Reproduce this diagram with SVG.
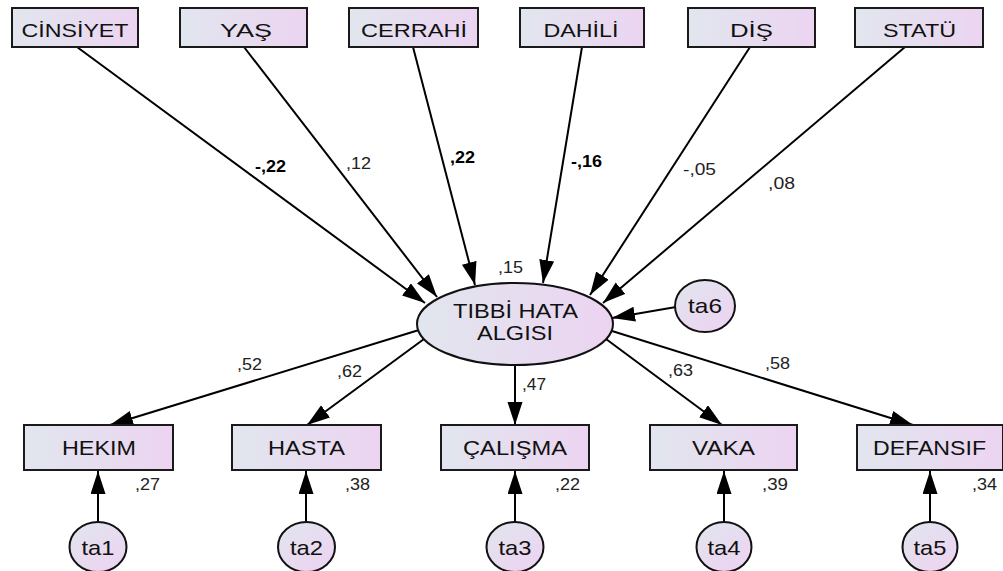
<svg xmlns="http://www.w3.org/2000/svg" width="1003" height="571" viewBox="0 0 1003 571">
<defs>
<linearGradient id="gh" x1="0" y1="0" x2="1" y2="0"><stop offset="0" stop-color="#e1e6ee"/><stop offset="1" stop-color="#ecd4f1"/></linearGradient>
<linearGradient id="gd" x1="0" y1="0" x2="0.7" y2="1"><stop offset="0" stop-color="#e1e6ee"/><stop offset="1" stop-color="#ecd4f1"/></linearGradient>
<marker id="ah" markerUnits="userSpaceOnUse" markerWidth="24" markerHeight="16" refX="23" refY="7.5" orient="auto"><path d="M0,0 L23,7.5 L0,15 z" fill="#000"/></marker>
<style>
.box{fill:url(#gh);stroke:#1a1a1a;stroke-width:2}
.lat{fill:url(#gh);stroke:#111;stroke-width:2}
.err{fill:url(#gd);stroke:#111;stroke-width:2}
.t{font-family:"Liberation Sans",Arial,sans-serif;fill:#111;text-anchor:middle}
.l{font-family:"Liberation Sans",Arial,sans-serif;fill:#222;font-size:16px}
.b{font-weight:bold;fill:#000}
.c line{stroke:#000;stroke-width:2;marker-end:url(#ah)}
</style>
</defs>
<rect width="1003" height="571" fill="#fff"/>
<g class="c" id="connectors">
<line x1="77" y1="47" x2="425" y2="303"/>
<line x1="244" y1="47" x2="437" y2="297"/>
<line x1="413" y1="47" x2="475" y2="285"/>
<line x1="582" y1="47" x2="543" y2="283"/>
<line x1="750" y1="47" x2="590" y2="295"/>
<line x1="905" y1="47" x2="603" y2="303"/>
<line x1="676" y1="307" x2="612" y2="318"/>
<line x1="419" y1="330" x2="110" y2="425"/>
<line x1="424" y1="339" x2="307" y2="425"/>
<line x1="515" y1="365" x2="515" y2="425"/>
<line x1="606" y1="339" x2="722" y2="425"/>
<line x1="612" y1="331" x2="913" y2="425"/>
<line x1="98" y1="522" x2="98" y2="471"/>
<line x1="306" y1="522" x2="306" y2="471"/>
<line x1="515" y1="522" x2="515" y2="471"/>
<line x1="724" y1="522" x2="724" y2="471"/>
<line x1="930" y1="522" x2="930" y2="471"/>
</g>
<g id="n-cinsiyet"><rect class="box" x="12" y="8" width="126" height="39"/><text class="t" x="75" y="37" font-size="19" textLength="107" lengthAdjust="spacingAndGlyphs">CİNSİYET</text></g>
<g id="n-yas"><rect class="box" x="180" y="8" width="127" height="39"/><text class="t" x="246" y="37" font-size="19" textLength="52" lengthAdjust="spacingAndGlyphs">YAŞ</text></g>
<g id="n-cerrahi"><rect class="box" x="349" y="8" width="129" height="39"/><text class="t" x="414" y="37" font-size="19" textLength="106" lengthAdjust="spacingAndGlyphs">CERRAHİ</text></g>
<g id="n-dahili"><rect class="box" x="520" y="8" width="124" height="39"/><text class="t" x="581" y="37" font-size="19" textLength="75" lengthAdjust="spacingAndGlyphs">DAHİLİ</text></g>
<g id="n-dis"><rect class="box" x="688" y="8" width="127" height="39"/><text class="t" x="751.5" y="37" font-size="19" textLength="43" lengthAdjust="spacingAndGlyphs">DİŞ</text></g>
<g id="n-statu"><rect class="box" x="855" y="8" width="128" height="39"/><text class="t" x="919.5" y="37" font-size="19" textLength="73" lengthAdjust="spacingAndGlyphs">STATÜ</text></g>
<g id="n-tibbi"><ellipse class="lat" cx="515" cy="324" rx="98" ry="41"/><text class="t" x="515.5" y="318" font-size="21" textLength="125" lengthAdjust="spacingAndGlyphs">TIBBİ HATA</text><text class="t" x="515" y="340" font-size="21" textLength="76" lengthAdjust="spacingAndGlyphs">ALGISI</text></g>
<g id="n-ta6"><ellipse class="err" cx="705" cy="306" rx="30" ry="26"/><text class="t" x="705" y="313" font-size="21" textLength="34" lengthAdjust="spacingAndGlyphs">ta6</text></g>
<g id="n-hekim"><rect class="box" x="24" y="425" width="149" height="45"/><text class="t" x="99" y="455" font-size="21" textLength="74" lengthAdjust="spacingAndGlyphs">HEKIM</text></g>
<g id="n-hasta"><rect class="box" x="232" y="425" width="149" height="45"/><text class="t" x="306.5" y="455" font-size="21" textLength="77" lengthAdjust="spacingAndGlyphs">HASTA</text></g>
<g id="n-calisma"><rect class="box" x="441" y="425" width="148" height="45"/><text class="t" x="515" y="455" font-size="21" textLength="104" lengthAdjust="spacingAndGlyphs">ÇALIŞMA</text></g>
<g id="n-vaka"><rect class="box" x="650" y="425" width="147" height="45"/><text class="t" x="723.5" y="455" font-size="21" textLength="63" lengthAdjust="spacingAndGlyphs">VAKA</text></g>
<g id="n-defansif"><rect class="box" x="857" y="425" width="146" height="45"/><text class="t" x="929.5" y="455" font-size="21" textLength="113" lengthAdjust="spacingAndGlyphs">DEFANSIF</text></g>
<g id="n-ta1"><ellipse class="err" cx="98" cy="547" rx="28.5" ry="25"/><text class="t" x="98" y="555" font-size="21" textLength="33" lengthAdjust="spacingAndGlyphs">ta1</text></g>
<g id="n-ta2"><ellipse class="err" cx="306.5" cy="547" rx="28.5" ry="25"/><text class="t" x="306.5" y="555" font-size="21" textLength="33" lengthAdjust="spacingAndGlyphs">ta2</text></g>
<g id="n-ta3"><ellipse class="err" cx="515" cy="547" rx="28.5" ry="25"/><text class="t" x="515" y="555" font-size="21" textLength="33" lengthAdjust="spacingAndGlyphs">ta3</text></g>
<g id="n-ta4"><ellipse class="err" cx="724" cy="547" rx="27.5" ry="25"/><text class="t" x="724" y="555" font-size="21" textLength="33" lengthAdjust="spacingAndGlyphs">ta4</text></g>
<g id="n-ta5"><ellipse class="err" cx="930" cy="547" rx="27.5" ry="25"/><text class="t" x="930" y="555" font-size="21" textLength="33" lengthAdjust="spacingAndGlyphs">ta5</text></g>
<g id="labels">
<text class="l b" x="255" y="172" textLength="31" lengthAdjust="spacingAndGlyphs">-,22</text>
<text class="l" x="346" y="169" textLength="25" lengthAdjust="spacingAndGlyphs">,12</text>
<text class="l b" x="450" y="163" textLength="25" lengthAdjust="spacingAndGlyphs">,22</text>
<text class="l b" x="571" y="167" textLength="31" lengthAdjust="spacingAndGlyphs">-,16</text>
<text class="l" x="683" y="175" textLength="33" lengthAdjust="spacingAndGlyphs">-,05</text>
<text class="l" x="768" y="189" textLength="27" lengthAdjust="spacingAndGlyphs">,08</text>
<text class="l" x="498" y="273" textLength="25" lengthAdjust="spacingAndGlyphs">,15</text>
<text class="l" x="237" y="370" textLength="25" lengthAdjust="spacingAndGlyphs">,52</text>
<text class="l" x="337" y="377" textLength="25" lengthAdjust="spacingAndGlyphs">,62</text>
<text class="l" x="522" y="390" textLength="24" lengthAdjust="spacingAndGlyphs">,47</text>
<text class="l" x="668" y="376" textLength="25" lengthAdjust="spacingAndGlyphs">,63</text>
<text class="l" x="765" y="369" textLength="25" lengthAdjust="spacingAndGlyphs">,58</text>
<text class="l" x="135" y="490" textLength="25" lengthAdjust="spacingAndGlyphs">,27</text>
<text class="l" x="345" y="490" textLength="25" lengthAdjust="spacingAndGlyphs">,38</text>
<text class="l" x="555" y="490" textLength="25" lengthAdjust="spacingAndGlyphs">,22</text>
<text class="l" x="762" y="490" textLength="26" lengthAdjust="spacingAndGlyphs">,39</text>
<text class="l" x="972" y="490" textLength="25" lengthAdjust="spacingAndGlyphs">,34</text>
</g>
</svg>
